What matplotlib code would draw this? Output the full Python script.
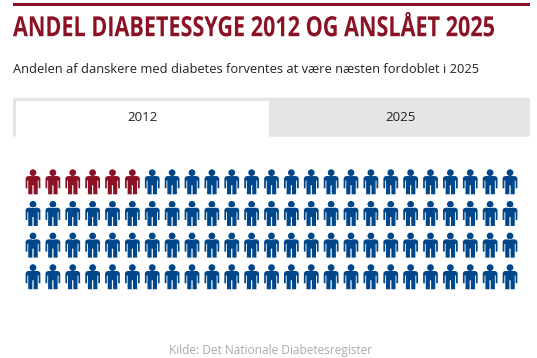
import numpy as np
import matplotlib
matplotlib.use("Agg")
import matplotlib.pyplot as plt
from matplotlib.patches import Rectangle, FancyBboxPatch
from matplotlib.path import Path
from matplotlib.patheffects import AbstractPathEffect
from matplotlib.transforms import Affine2D

# Data
title = "ANDEL DIABETESSYGE 2012 OG ANSLÅET 2025"
subtitle = "Andelen af danskere med diabetes forventes at være næsten fordoblet i 2025"
tabs = ["2012", "2025"]
source = "Kilde: Det Nationale Diabetesregister"
n_people = 100
n_per_row = 25
n_diabetes = 6

red = "#8b1224"
blue = "#00468b"

plt.rcParams['font.family'] = ['Open Sans', 'DejaVu Sans']


# No condensed font installed, so reshape the title about its baseline start
class Reshape(AbstractPathEffect):
    def __init__(self, x0, y0, fx, fy):
        super().__init__()
        self.x0, self.y0 = x0, y0
        self.fx, self.fy = fx, fy

    def draw_path(self, renderer, gc, tpath, affine, rgbFace=None):
        reshape = (Affine2D().translate(-self.x0, -self.y0)
                   .scale(self.fx, self.fy).translate(self.x0, self.y0))
        renderer.draw_path(gc, tpath, affine + reshape, rgbFace)


# Pixel canvas, y going down like the reference
fig = plt.figure(figsize=(5.37, 3.58), dpi=100)
ax = fig.add_axes([0, 0, 1, 1])
ax.set_xlim(0, 537)
ax.set_ylim(358, 0)
ax.axis('off')

# Header
ax.add_patch(Rectangle((13, 3.3), 517, 2.8, color=red, lw=0))
title_text = ax.text(13, 36.2, title, fontsize=16, fontweight='bold', color=red, va='baseline')
fig.canvas.draw()
title_width = title_text.get_window_extent().width
title_text.set_path_effects([Reshape(13, 358 - 36.2, 483 / title_width, 20 / 16)])
ax.text(13, 73.4, subtitle, fontsize=9.3, color='#222222', va='baseline')

# Tabs
ax.add_patch(FancyBboxPatch((13, 97.7), 517, 39, boxstyle="round,pad=0,rounding_size=2",
                            fc='#e5e5e5', ec='none'))
ax.add_patch(FancyBboxPatch((16, 101), 253, 40, boxstyle="round,pad=0,rounding_size=2",
                            fc='white', ec='none'))
ax.add_patch(Rectangle((0, 136.7), 537, 8, color='white', lw=0))
ax.text(142.5, 117.5, tabs[0], fontsize=9.6, color='#222222', ha='center', va='center')
ax.text(400.5, 117.5, tabs[1], fontsize=9.6, color='#222222', ha='center', va='center')

# Person marker
body = [(-0.37, 0.46), (0.37, 0.46), (0.50, 0.42), (0.59, 0.30), (0.59, -0.52), (0.45, -0.52),
        (0.45, 0.10), (0.38, 0.10), (0.38, -1.0), (0.05, -1.0), (0.05, -0.28), (-0.05, -0.28),
        (-0.05, -1.0), (-0.38, -1.0), (-0.38, 0.10), (-0.45, 0.10), (-0.45, -0.52), (-0.59, -0.52),
        (-0.59, 0.30), (-0.50, 0.42), (-0.37, 0.46)]
head = Path.circle((0, 0.73), 0.27)
person = Path.make_compound_path(head, Path(body, closed=True))

# Grid of people
idx = np.arange(n_people)
col = idx % n_per_row
row = idx // n_per_row
xs = 33 + col * 19.875
ys = 181.8 + row * 31.65
colors = [red if i < n_diabetes else blue for i in idx]
people = ax.scatter(xs, ys, marker=person, s=(25 * 0.72) ** 2, c=colors, linewidths=0)
people.set_snap(False)

# Source
ax.text(271, 350.5, source, fontsize=8.6, color='#aaaaaa', ha='center', va='center')

fig.savefig("out.png", dpi=100)
